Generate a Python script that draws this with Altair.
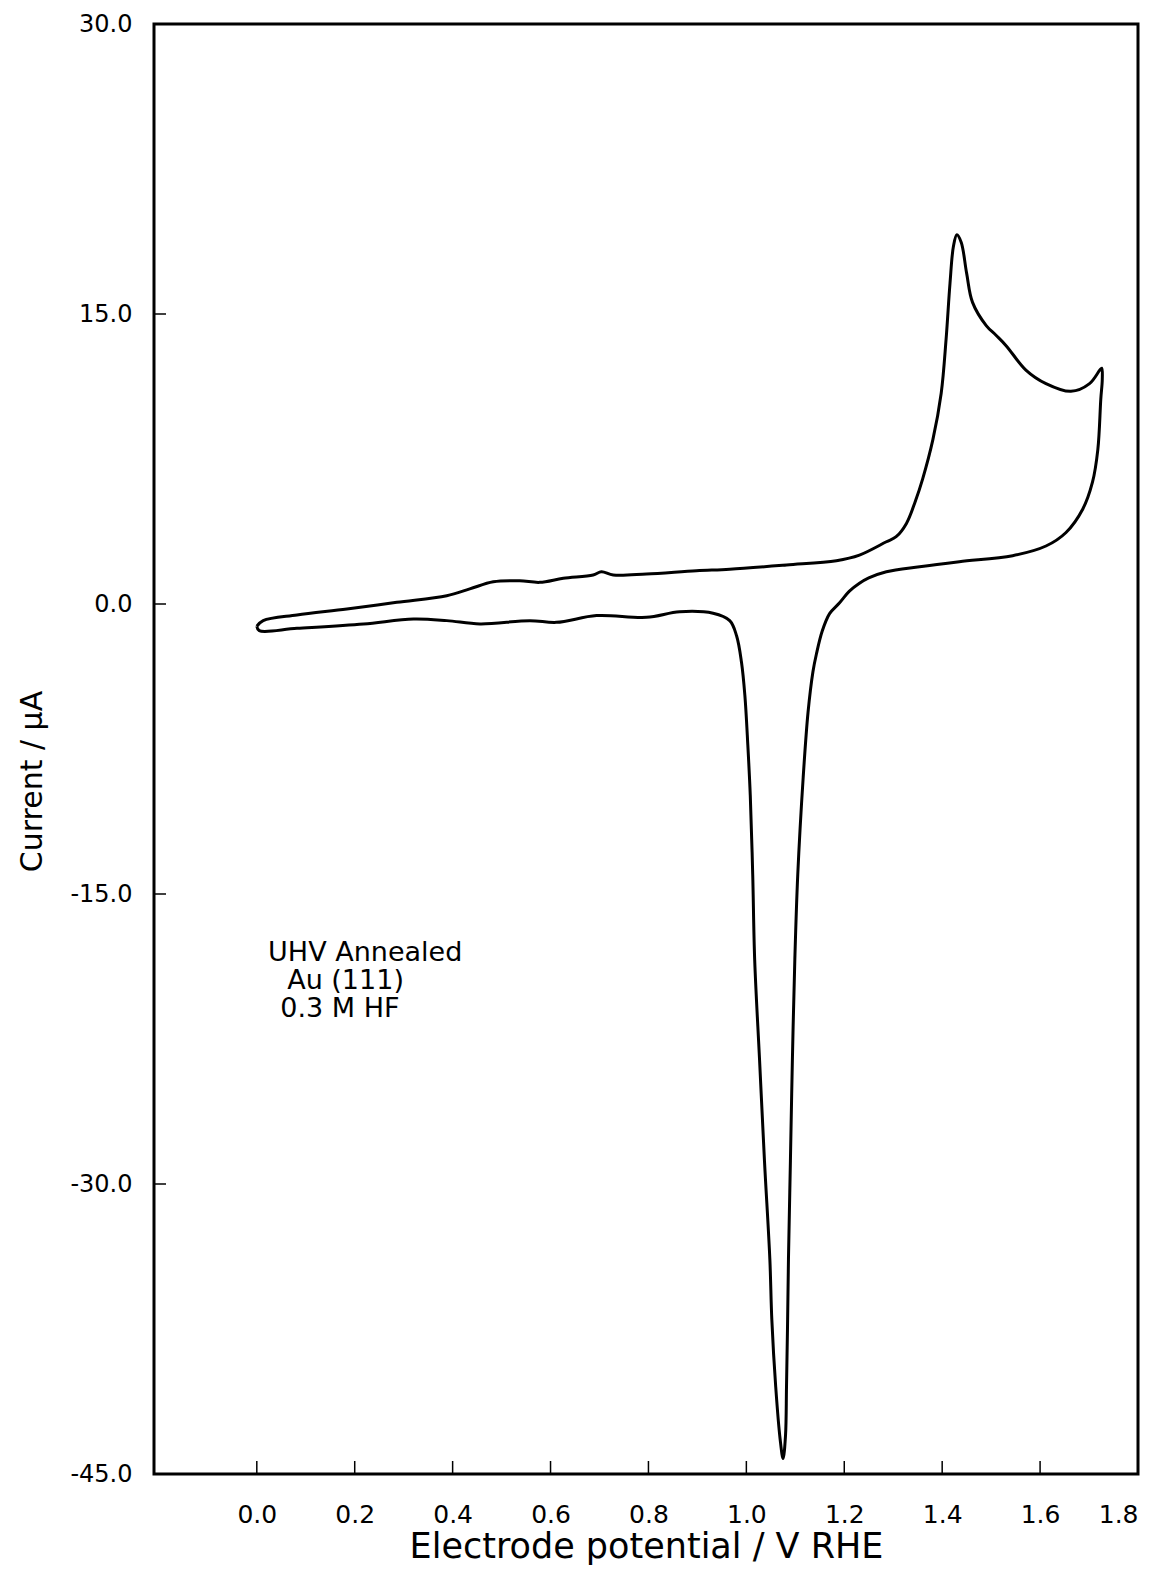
import altair as alt
import pandas as pd

# Forward (anodic) scan, left to right: potential (V RHE), current (uA)
anodic_E = [0.000, 0.013, 0.082, 0.184, 0.286, 0.388, 0.435, 0.483, 0.537, 0.578,
            0.626, 0.687, 0.704, 0.728, 0.796, 0.898, 0.966, 1.082, 1.184, 1.231,
            1.286, 1.306, 1.327, 1.345, 1.360, 1.381, 1.398, 1.408, 1.416, 1.423,
            1.430, 1.439, 1.450, 1.462, 1.490, 1.510, 1.531, 1.571, 1.612, 1.663,
            1.701, 1.722, 1.726]
anodic_I = [-1.15, -0.86, -0.57, -0.26, 0.09, 0.43, 0.78, 1.15, 1.20, 1.12,
            1.33, 1.50, 1.67, 1.50, 1.55, 1.72, 1.80, 2.02, 2.24, 2.53,
            3.22, 3.48, 4.17, 5.3, 6.46, 8.5, 10.9, 13.7, 16.6, 18.5,
            19.1, 18.7, 17.1, 15.6, 14.4, 13.9, 13.35, 12.1, 11.4, 11.0,
            11.4, 12.1, 12.2]

# Reverse (cathodic) scan, right to left
cathodic_E = [1.727, 1.724, 1.718, 1.707, 1.687, 1.653, 1.612, 1.544, 1.435, 1.354,
              1.286, 1.250, 1.231, 1.210, 1.190, 1.170, 1.155, 1.143, 1.136, 1.126,
              1.116, 1.105, 1.099, 1.094, 1.090, 1.086, 1.084, 1.082, 1.080, 1.075,
              1.069, 1.060, 1.052, 1.048, 1.037, 1.027, 1.017, 1.013, 1.008, 1.003,
              0.997, 0.990, 0.980, 0.966, 0.932, 0.864, 0.796, 0.694, 0.612, 0.558,
              0.456, 0.388, 0.320, 0.218, 0.082, 0.005, 0.000]
cathodic_I = [11.6, 10.6, 8.0, 6.3, 4.9, 3.7, 3.0, 2.5, 2.19, 1.93,
              1.67, 1.35, 1.07, 0.65, 0.05, -0.5, -1.4, -2.6, -3.5, -5.6,
              -9.0, -14.0, -18.4, -23.6, -28.8, -33.9, -37.5, -40.5, -43.0, -44.2,
              -43.2, -40.5, -37.0, -33.9, -28.8, -23.6, -18.4, -14.0, -9.9, -7.3,
              -4.74, -3.0, -1.64, -0.86, -0.48, -0.40, -0.69, -0.60, -0.95, -0.86,
              -1.03, -0.86, -0.78, -1.03, -1.26, -1.38, -1.15]

x_ticks = [0.0, 0.2, 0.4, 0.6, 0.8, 1.0, 1.2, 1.4, 1.6, 1.8]
y_ticks = [-45.0, -30.0, -15.0, 0.0, 15.0, 30.0]
x_inner_ticks = [0.0, 0.2, 0.4, 0.6, 0.8, 1.0, 1.2, 1.4, 1.6]
y_inner_ticks = [-30.0, -15.0, 0.0, 15.0]

label_lines = ["UHV Annealed", "Au (111)", "0.3 M HF"]
label_E = [0.023, 0.062, 0.048]
label_I = [-18.47, -19.92, -21.37]

W, H = 984, 1450
FONT = "DejaVu Sans"

E = anodic_E + cathodic_E
I = anodic_I + cathodic_I
cv = pd.DataFrame({"E": E, "I": I, "order": list(range(len(E)))})

xscale = alt.Scale(domain=[-0.21, 1.8], nice=False, zero=False)
yscale = alt.Scale(domain=[-45, 30], nice=False, zero=False)

xaxis = alt.Axis(values=x_ticks, format=".1f", labelFlush=True, domain=False,
                 ticks=False, tickSize=0, grid=False, labelFont=FONT, labelFontSize=25,
                 labelColor="black", labelPadding=28,
                 title="Electrode potential / V RHE", titleFont=FONT, titleFontSize=35,
                 titleFontWeight="normal", titleColor="black",
                 titleX=W / 2, titleY=83, titleBaseline="alphabetic", titleAlign="center")
yaxis = alt.Axis(values=y_ticks,
                 labelExpr="datum.value < 0 ? '-' + format(-datum.value, '.1f') : format(datum.value, '.1f')",
                 labelFlush=False, domain=False, ticks=False, tickSize=0, grid=False,
                 labelFont=FONT, labelFontSize=24, labelColor="black", labelPadding=22,
                 title="Current / μA", titleFont=FONT, titleFontSize=30,
                 titleFontWeight="normal", titleColor="black", titleAngle=270,
                 titleX=-113, titleY=757, titleBaseline="alphabetic", titleAlign="center")

line = alt.Chart(cv).mark_line(color="black", strokeWidth=3, interpolate="catmull-rom").encode(
    x=alt.X("E:Q", scale=xscale, axis=xaxis),
    y=alt.Y("I:Q", scale=yscale, axis=yaxis),
    order="order:Q",
)

xt = alt.Chart(pd.DataFrame({"v": x_inner_ticks})).mark_rule(color="black", strokeWidth=1.5).encode(
    x="v:Q", y=alt.value(H), y2=alt.value(H - 13))
yt = alt.Chart(pd.DataFrame({"v": y_inner_ticks})).mark_rule(color="black", strokeWidth=1.5).encode(
    y="v:Q", x=alt.value(0), x2=alt.value(12))

txt = alt.Chart(pd.DataFrame({"E": label_E, "I": label_I, "t": label_lines})).mark_text(
    align="left", baseline="alphabetic", font=FONT, fontSize=27, color="black").encode(
    x="E:Q", y="I:Q", text="t:N")

chart = alt.layer(line, xt, yt, txt).properties(
    width=W, height=H,
    background="white",
    padding={"left": 146, "top": 16, "right": 9, "bottom": 100},
    autosize=alt.AutoSizeParams(type="none"),
).configure_view(stroke="black", strokeWidth=3, strokeOpacity=1)

chart.save("out.html", embed_options={"renderer": "svg", "actions": False})
